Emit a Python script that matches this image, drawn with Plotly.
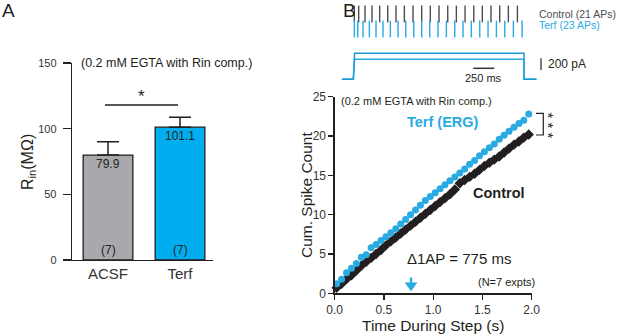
import plotly.graph_objects as go

W, H = 617, 336
FONT = "Liberation Sans, Arial, sans-serif"
INK = "#231f20"
CYAN = "#29abe2"

# ---------------- Panel A data ----------------
conditions = ["ACSF", "Terf"]
rin_mean = [79.9, 101.1]
rin_sem = [10.2, 7.5]
n_cells = ["(7)", "(7)"]
bar_colors = ["#a7a9ac", "#00aeef"]
a_ticks = [0, 50, 100, 150]

# ---------------- Panel B data ----------------
terf_t = [0.02, 0.07, 0.12, 0.17, 0.22, 0.27, 0.32, 0.37, 0.42, 0.47,
          0.52, 0.57, 0.62, 0.67, 0.72, 0.77, 0.82, 0.87, 0.92, 0.97,
          1.02, 1.07, 1.12, 1.17, 1.22, 1.27, 1.32, 1.37, 1.42, 1.47,
          1.52, 1.57, 1.62, 1.67, 1.72, 1.77, 1.82, 1.87, 1.92, 1.97]
terf_count = [1.2, 1.8, 2.6, 3.2, 3.8, 4.6, 4.9, 5.8, 6.2, 6.7,
              7.2, 7.7, 8.2, 8.8, 9.4, 10.0, 10.6, 11.2, 11.8, 12.3,
              12.8, 13.3, 13.8, 14.3, 14.8, 15.3, 15.8, 16.4, 16.9, 17.5,
              18.0, 18.5, 19.0, 19.6, 20.1, 20.6, 21.1, 21.6, 22.0, 22.8]
ctrl_t = [0.02, 0.07, 0.12, 0.17, 0.22, 0.27, 0.32, 0.37, 0.42, 0.47,
          0.52, 0.57, 0.62, 0.67, 0.72, 0.77, 0.82, 0.87, 0.92, 0.97,
          1.02, 1.07, 1.12, 1.17, 1.22, 1.27, 1.32, 1.37, 1.42, 1.47,
          1.52, 1.57, 1.62, 1.67, 1.72, 1.77, 1.82, 1.87, 1.92, 1.97]
ctrl_count = [0.7, 1.2, 1.8, 2.3, 2.9, 3.5, 4.0, 4.5, 5.0, 5.5,
              6.1, 6.6, 7.1, 7.6, 8.1, 8.6, 9.1, 9.6, 10.1, 10.6,
              11.1, 11.6, 12.1, 12.6, 13.2, 14.0, 14.4, 14.8, 15.2, 15.7,
              16.2, 16.6, 17.0, 17.4, 17.9, 18.4, 18.9, 19.3, 19.8, 20.2]
b_xticks = [0, 0.5, 1.0, 1.5, 2.0]
b_yticks = [0, 5, 10, 15, 20, 25]
delta_ap_ms = 775

# spike rasters (ms from step onset) and current step protocol
ctrl_spikes_ms = [12, 63, 137, 219, 309, 403, 500, 598, 699, 801, 902,
                  1004, 1106, 1207, 1309, 1411, 1511, 1613, 1715, 1816, 1922]
terf_spikes_ms = [12, 52, 114, 188, 266, 348, 434, 524, 614, 708, 801, 895,
                  992, 1090, 1188, 1285, 1382, 1481, 1578, 1676, 1774, 1875, 1977]
step_t_ms = [-136, 0, 15, 2000, 2000, 2148]
step_outer_pA = [0, 0, 433, 433, 0, 0]
step_inner_pA = [0, 0, 333, 333, 0, 0]


def px(x):
    return x / W


def py(y):
    return 1 - y / H


fig = go.Figure()

# ---- Panel A bars ----
fig.add_trace(go.Bar(
    x=[0, 1], y=rin_mean, width=0.69,
    marker=dict(color=bar_colors, line=dict(color=INK, width=1.3)),
    error_y=dict(type="data", array=rin_sem, arrayminus=[0, 0], symmetric=False,
                 color=INK, thickness=1.5, width=11),
    xaxis="x", yaxis="y", showlegend=False, hoverinfo="skip"))

# ---- Panel B cumulative curves ----
fig.add_trace(go.Scatter(
    x=ctrl_t, y=ctrl_count, mode="markers",
    marker=dict(symbol="diamond", size=8, color=INK),
    xaxis="x2", yaxis="y2", showlegend=False, cliponaxis=False))
fig.add_trace(go.Scatter(
    x=terf_t, y=terf_count, mode="markers",
    marker=dict(symbol="circle", size=7, color=CYAN),
    xaxis="x2", yaxis="y2", showlegend=False, cliponaxis=False))

# ---- Rasters ----
fig.add_trace(go.Scatter(
    x=ctrl_spikes_ms, y=["Control"] * len(ctrl_spikes_ms), mode="markers",
    marker=dict(symbol="line-ns", size=12, line=dict(color="#4d4d4f", width=1.4)),
    xaxis="x3", yaxis="y3", showlegend=False, cliponaxis=False))
fig.add_trace(go.Scatter(
    x=terf_spikes_ms, y=["Terf"] * len(terf_spikes_ms), mode="markers",
    marker=dict(symbol="line-ns", size=12, line=dict(color=CYAN, width=1.4)),
    xaxis="x3", yaxis="y3", showlegend=False, cliponaxis=False))

# ---- Current step ----
fig.add_trace(go.Scatter(
    x=step_t_ms, y=step_inner_pA, mode="lines", line=dict(color=CYAN, width=1.4),
    xaxis="x4", yaxis="y4", showlegend=False, cliponaxis=False))
fig.add_trace(go.Scatter(
    x=step_t_ms, y=step_outer_pA, mode="lines", line=dict(color="#1b9bd7", width=1.5),
    xaxis="x4", yaxis="y4", showlegend=False, cliponaxis=False))

axis_common = dict(showgrid=False, zeroline=False, showline=True, linecolor=INK,
                   linewidth=1.3, tickcolor=INK, tickwidth=1.3, ticks="outside",
                   automargin=False,
                   tickfont=dict(family=FONT, color="#333333"))
hidden = dict(visible=False, automargin=False, showgrid=False, zeroline=False)

layout = dict(
    width=W, height=H, margin=dict(l=0, r=0, t=0, b=0, pad=0), autosize=False,
    paper_bgcolor="white", plot_bgcolor="white",
    font=dict(family=FONT, color=INK),
    xaxis=dict(axis_common, domain=[px(72), px(213)], range=[-0.5, 1.458],
               tickvals=[0, 1], ticktext=conditions, ticks="",
               tickfont=dict(family=FONT, size=15, color="#333333"), anchor="y"),
    yaxis=dict(axis_common, domain=[py(260), py(63)], range=[0, 150],
               tickvals=a_ticks, ticklen=8, tickfont=dict(family=FONT, size=11, color="#333333"),
               ticklabelstandoff=4, anchor="x"),
    xaxis2=dict(axis_common, domain=[px(334.7), px(531.7)], range=[0, 2.0],
                tickvals=b_xticks, tickformat=".1f", ticklen=5,
                tickfont=dict(family=FONT, size=12, color="#333333"), anchor="y2"),
    yaxis2=dict(axis_common, domain=[py(293.3), py(96.7)], range=[0, 25],
                tickvals=b_yticks, ticklen=5,
                tickfont=dict(family=FONT, size=12, color="#333333"), anchor="x2"),
    xaxis3=dict(hidden, domain=[px(341.7), px(536.7)], range=[-136, 2148], anchor="y3"),
    yaxis3=dict(hidden, domain=[py(38), py(5)], range=[-0.6, 1.6], type="category",
                categoryorder="array", categoryarray=["Terf", "Control"], anchor="x3"),
    xaxis4=dict(hidden, domain=[px(341.7), px(536.7)], range=[-136, 2148], anchor="y4"),
    yaxis4=dict(hidden, domain=[py(82), py(50)], range=[-45, 488], anchor="x4"),
)
fig.update_layout(**layout)

anns = []


def ann(x, y, text, size, color=INK, xanchor="center", yanchor="middle", angle=0, **kw):
    anns.append(dict(x=px(x), y=py(y), xref="paper", yref="paper", text=text,
                     showarrow=False, xanchor=xanchor, yanchor=yanchor, textangle=angle,
                     font=dict(family=FONT, size=size, color=color), **kw))


# Panel labels
ann(8, 11, "A", 19)
ann(349, 11, "B", 19)

# Panel A texts
ann(79, 63, "(0.2 mM EGTA with Rin comp.)", 12.5, xanchor="left")
ann(28, 162, "R<sub>in</sub>(MΩ)", 16, angle=-90)
ann(141, 97, "*", 17)
for i, (m, n) in enumerate(zip(rin_mean, n_cells)):
    anns.append(dict(x=i, y=m, xref="x", yref="y", text=f"{m}", showarrow=False,
                     yshift=-9, font=dict(family=FONT, size=12, color=INK)))
    anns.append(dict(x=i, y=0, xref="x", yref="y", text=n, showarrow=False,
                     yshift=10, font=dict(family=FONT, size=12, color=INK)))

# Panel B texts
ann(339, 101, "(0.2 mM EGTA with Rin comp.)", 11, xanchor="left")
ann(306, 195, "Cum. Spike Count", 15.5, angle=-90)
ann(433, 325, "Time During Step (s)", 15.5)
ann(443, 122, "<b>Terf (ERG)</b>", 14.5, color=CYAN)
ann(499, 193, "<b>Control</b>", 14.5)
ann(459, 258, f"\u03941AP = {delta_ap_ms} ms", 15)
ann(506, 282, "(N=7 expts)", 11)
ann(548.5, 125, "* * *", 15, angle=90)

# Raster / trace labels
ann(536.5, 14, "Control (21 APs)", 10.5, color="#4d4d4f", xanchor="left")
ann(536.5, 25.5, "Terf (23 APs)", 10.5, color=CYAN, xanchor="left")
ann(483.7, 78.5, "250 ms", 11)
ann(546, 64, "200 pA", 12, xanchor="left")

fig.update_layout(annotations=anns)

# arrow marking delta 1AP (x position from data, drawn in axis-2 coords)
t_arrow = delta_ap_ms / 1000
half_w = 0.06
shapes = [
    dict(type="line", xref="x2", yref="y2", x0=t_arrow, x1=t_arrow, y0=1.2, y1=2.0,
         line=dict(color=CYAN, width=2.4)),
    dict(type="path", xref="x2", yref="y2",
         path=f"M {t_arrow - half_w},1.35 L {t_arrow + half_w},1.35 L {t_arrow},0.3 Z",
         fillcolor=CYAN, line=dict(color=CYAN, width=0.5)),
    # significance line panel A
    dict(type="line", xref="paper", yref="paper", x0=px(105), x1=px(178), y0=py(105), y1=py(105),
         line=dict(color=INK, width=1.3)),
    # *** bracket
    dict(type="path", xref="paper", yref="paper",
         path=f"M {px(536)},{py(113.3)} L {px(543.3)},{py(113.3)} L {px(543.3)},{py(135)} L {px(536)},{py(135)}",
         line=dict(color=INK, width=1.2)),
    # 250 ms scale bar
    dict(type="line", xref="paper", yref="paper", x0=px(473.3), x1=px(494.3), y0=py(68.3), y1=py(68.3),
         line=dict(color="#333333", width=1.5)),
    # 200 pA scale bar
    dict(type="line", xref="paper", yref="paper", x0=px(541), x1=px(541), y0=py(58.3), y1=py(70),
         line=dict(color="#333333", width=1.3)),
]
fig.update_layout(shapes=shapes)

fig.write_html(
    "out.html",
    config={"displayModeBar": False, "staticPlot": True},
    post_script="document.body.style.margin='0';document.body.style.padding='0';"
                "document.body.style.overflow='hidden';",
)
